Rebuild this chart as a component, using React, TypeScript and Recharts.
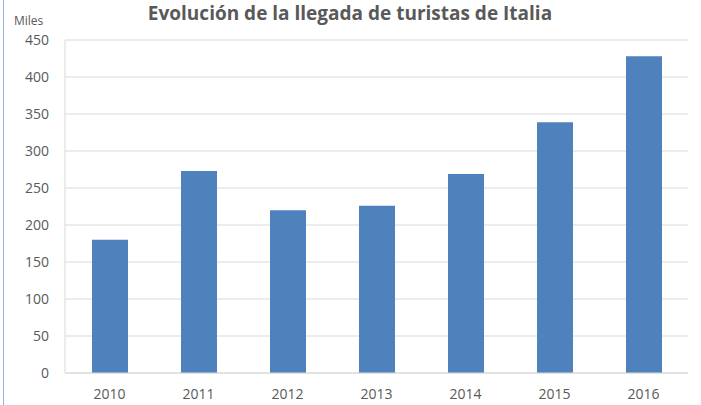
import React from "react";
import { BarChart, Bar, XAxis, YAxis, CartesianGrid } from "recharts";

const years = ["2010", "2011", "2012", "2013", "2014", "2015", "2016"];
const visitors = [180, 273, 220, 226, 269, 339, 428];
const yTicks = [0, 50, 100, 150, 200, 250, 300, 350, 400, 450];

const chartData = years.map((year, i) => ({ year, visitors: visitors[i] }));

const textColor = "#595959";
const font = "'Open Sans', sans-serif";

const App: React.FC = () => {
    return (
        <div style={{ position: "relative", width: 701, height: 405, background: "#fff" }}>
            <style>{`body{margin:0}`}</style>
            {/* left edge of the chart frame */}
            <div style={{ position: "absolute", left: 3, top: 0, width: 1, height: 405, background: "#8EB4E3" }} />
            <BarChart
                width={701}
                height={405}
                data={chartData}
                margin={{ top: 40, right: 13, left: 0, bottom: 0 }}
                style={{ fontFamily: font }}
            >
                <text x={350} y={20} textAnchor="middle" fontSize={19} fontWeight="bold" fill={textColor} fontFamily={font}>
                    Evolución de la llegada de turistas de Italia
                </text>
                <text x={14} y={25} fontSize={12} fill={textColor} fontFamily={font}>
                    Miles
                </text>
                <CartesianGrid stroke="#D9D9D9" vertical={false} />
                <XAxis
                    dataKey="year"
                    height={32}
                    tickLine={false}
                    tickSize={6}
                    tickMargin={10}
                    stroke="#D9D9D9"
                    tick={{ fill: textColor, fontSize: 14 }}
                />
                <YAxis
                    width={65}
                    domain={[0, 450]}
                    ticks={yTicks}
                    interval={0}
                    tickLine={false}
                    tickSize={6}
                    tickMargin={10}
                    stroke="#D9D9D9"
                    tick={{ fill: textColor, fontSize: 14 }}
                />
                <Bar dataKey="visitors" fill="#4F81BD" barSize={36} isAnimationActive={false} />
            </BarChart>
        </div>
    );
};

export default App;
